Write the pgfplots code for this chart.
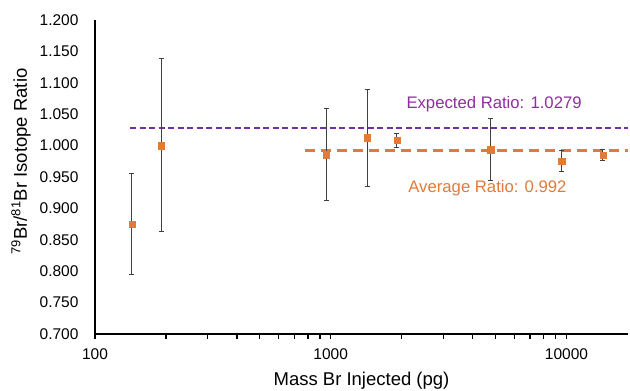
\documentclass[border=0pt]{standalone}
\usepackage{pgfplots}
\pgfplotsset{compat=1.18}
\usepackage{fontspec}
\setmainfont{Liberation Sans}
\usetikzlibrary{calc}
\definecolor{myorange}{HTML}{E07B39}
\definecolor{mypurple}{HTML}{7030A0}
\definecolor{purpletext}{HTML}{8E2E9E}
\definecolor{errgray}{HTML}{404040}
\begin{document}
\begin{tikzpicture}
\begin{axis}[
  scale only axis,
  width=533pt, height=314pt,
  xmode=log,
  xmin=100, xmax=18250,
  ymin=0.7, ymax=1.2,
  axis x line=bottom, axis y line=left,
  axis line style={-, line width=1.5pt, black},
  xtick={100,1000,10000},
  xticklabels={100,1000,10000},
  minor xtick={200,300,400,500,600,700,800,900,2000,3000,4000,5000,6000,7000,8000,9000},
  tick align=outside,
  major tick length=5pt, minor tick length=5pt,
  x tick style={line width=1.3pt, black},
  ytick={0.7,0.75,0.8,0.85,0.9,0.95,1.0,1.05,1.1,1.15,1.2},
  y tick style={draw=none},
  yticklabel style={/pgf/number format/fixed, /pgf/number format/fixed zerofill, /pgf/number format/precision=3, /pgf/number format/assume math mode=true, xshift=-8pt},
  xticklabel style={/pgf/number format/assume math mode=true, yshift=-6pt},
  ticklabel style={font=\fontsize{15.5}{18}\selectfont, text=black},
  xlabel={Mass Br Injected (pg)},
  ylabel={\textsuperscript{79}Br/\textsuperscript{81}Br Isotope Ratio},
  every axis x label/.style={at={(axis description cs:0.5,-0.1497)}, anchor=center, font=\fontsize{18.5}{22}\selectfont},
  every axis y label/.style={at={(axis description cs:-0.1388,0.549)}, rotate=90, anchor=center, font=\fontsize{18.5}{22}\selectfont},
  clip=false,
]
\addplot[mypurple, line width=2pt, dash pattern=on 6pt off 3.5pt] coordinates {(141,1.0279) (18250,1.0279)};
\addplot[myorange, line width=2.5pt, dash pattern=on 10pt off 6pt] coordinates {(778,0.992) (18250,0.992)};
\addplot[only marks, mark=square*, mark size=3.2pt, mark options={fill=myorange, draw=myorange},
  error bars/.cd, y dir=both, y explicit,
  error bar style={errgray, line width=1pt},
  error mark options={errgray, line width=1pt, mark size=2.5pt, rotate=90}]
  table[x=x, y=y, y error plus=ep, y error minus=em] {
x y ep em
143.5 0.875 0.081 0.080
190.6 1.000 0.138 0.136
957 0.9855 0.0735 0.0725
1429 1.0126 0.077 0.077
1910 1.0084 0.011 0.011
4775 0.9935 0.049 0.049
9550 0.975 0.0175 0.017
14290 0.9846 0.009 0.008
};
\node[text=purpletext, font=\fontsize{16.7}{20}\selectfont] at (axis cs:4932,1.0662) {Expected Ratio: 1.0279};
\node[text=myorange, font=\fontsize{16.7}{20}\selectfont] at (axis cs:4624,0.932) {Average Ratio: 0.992};
\coordinate (bl) at (rel axis cs:0,0);
\coordinate (tr) at (rel axis cs:1,1);
\end{axis}
\pgfresetboundingbox
\path[use as bounding box] ($(bl)+(-95pt,-57pt)$) rectangle ($(tr)+(2pt,20pt)$);
\end{tikzpicture}
\end{document}
